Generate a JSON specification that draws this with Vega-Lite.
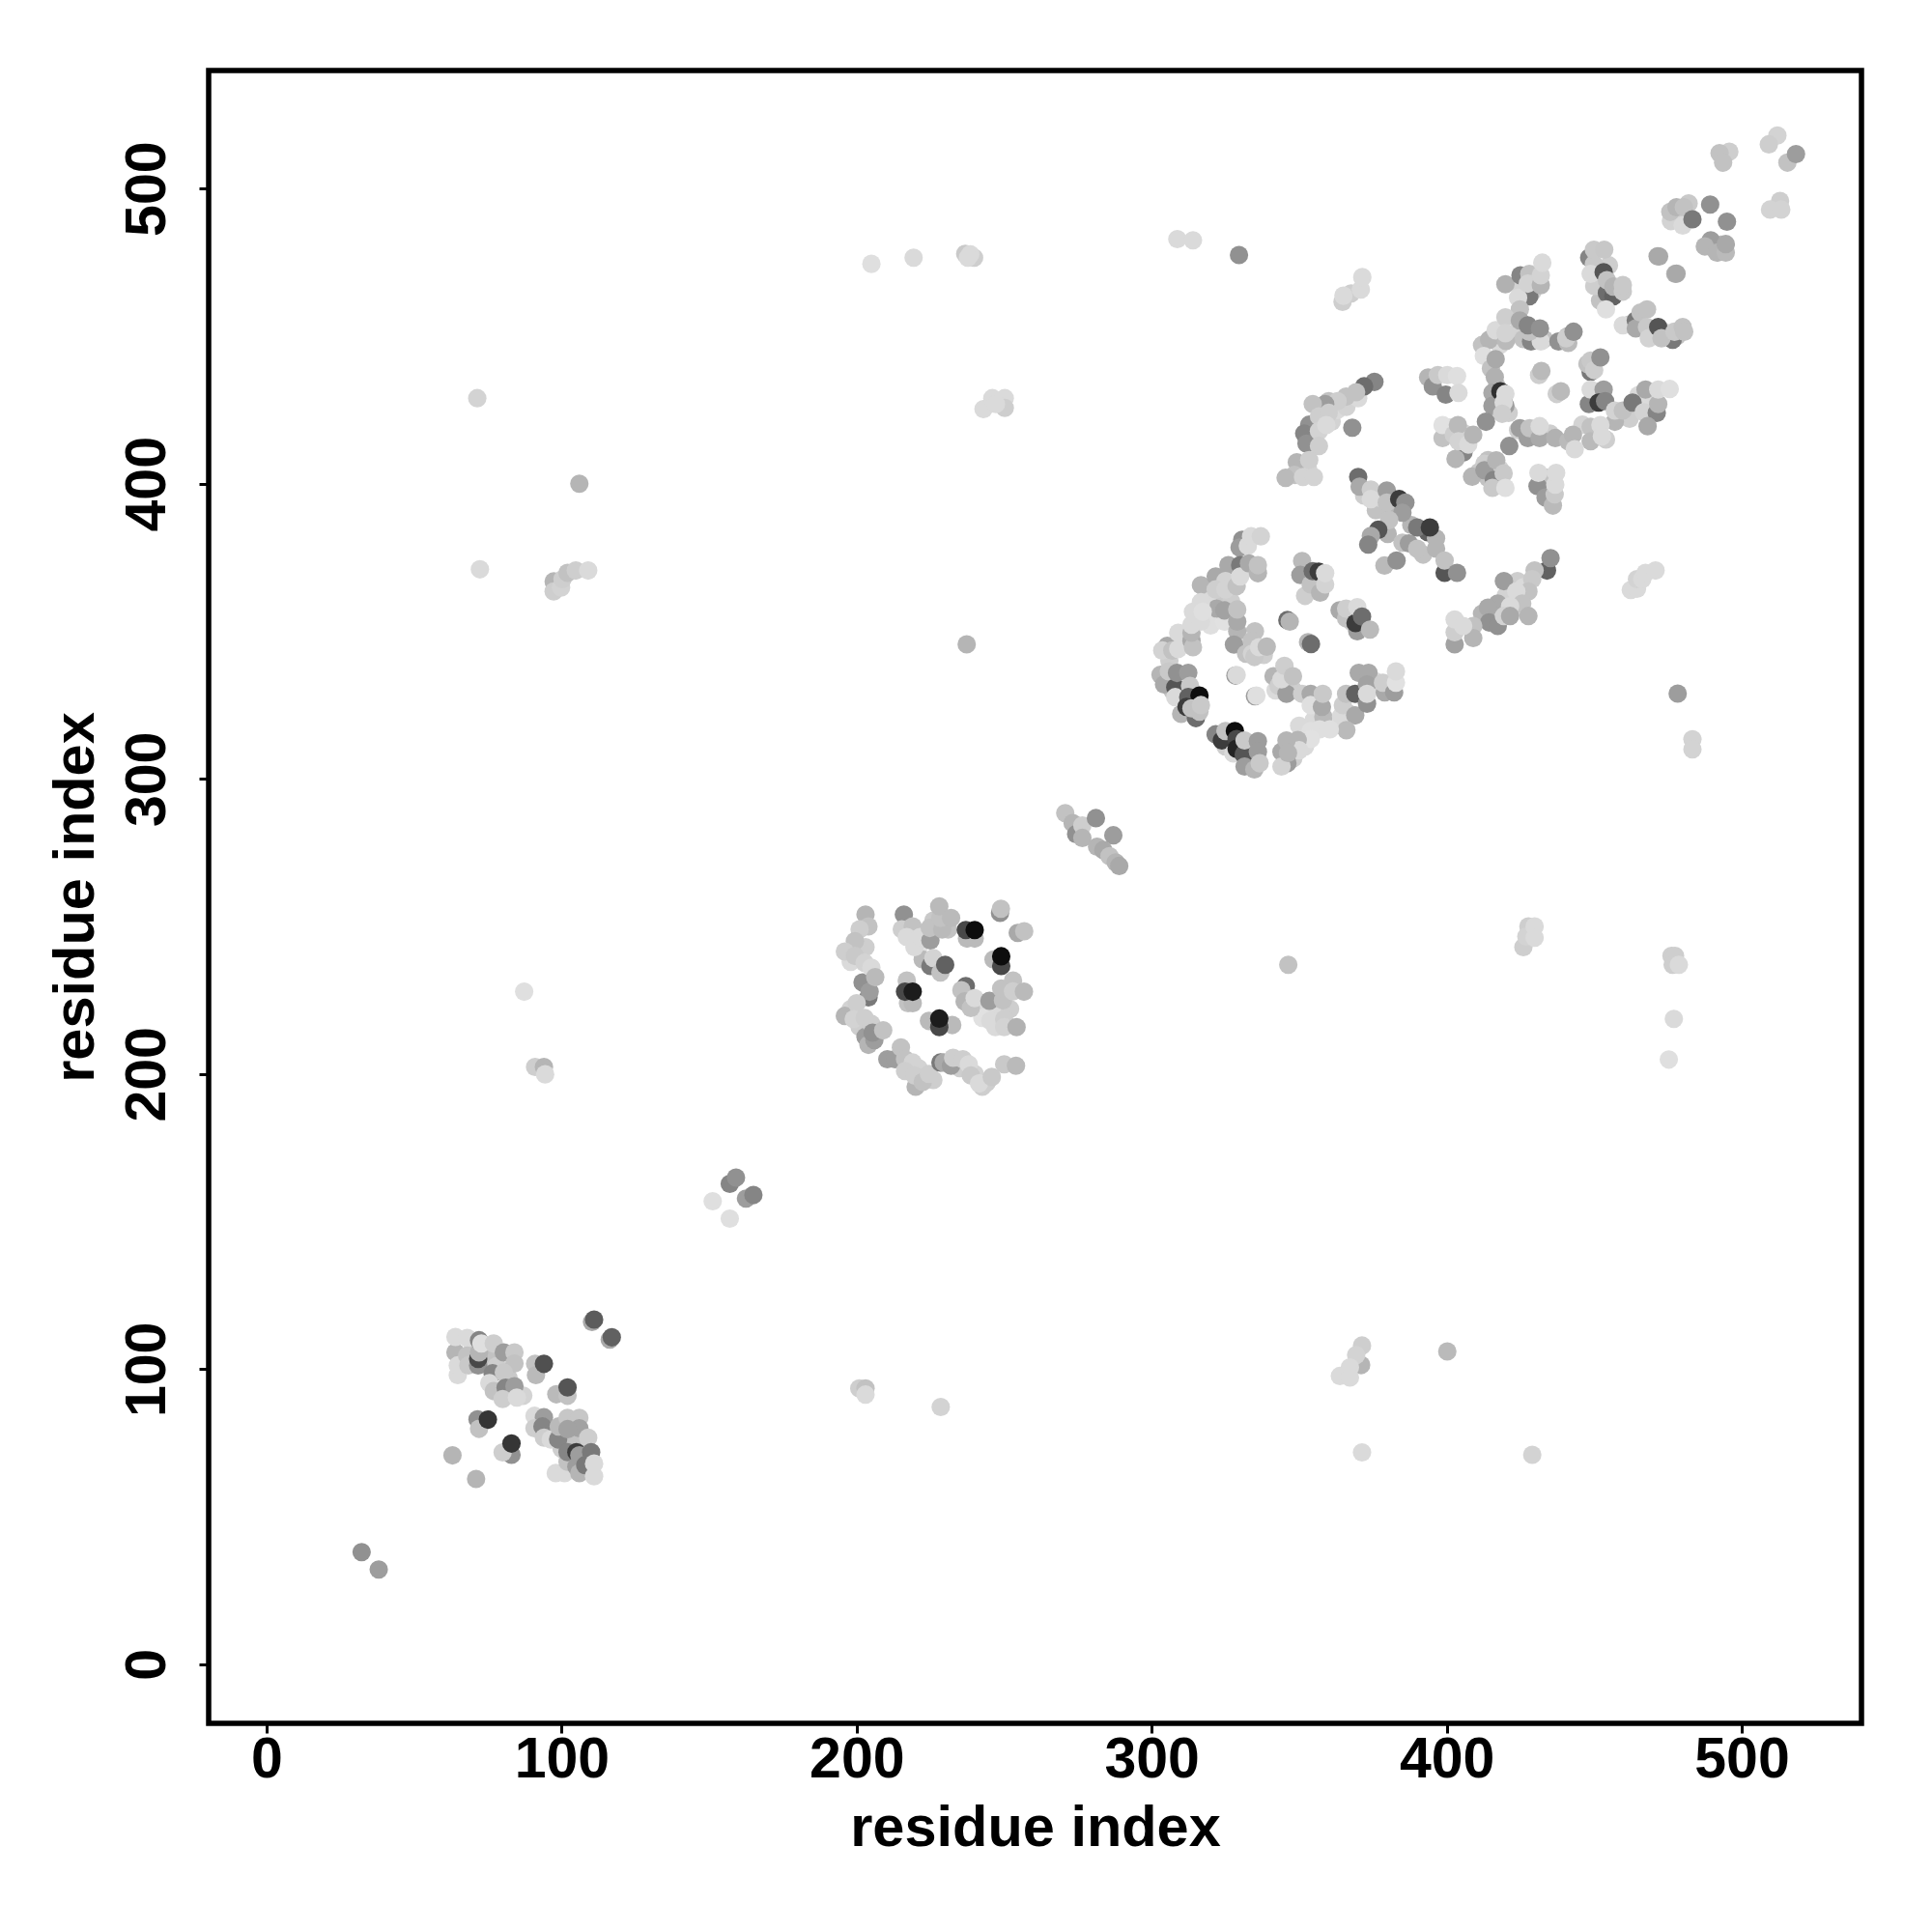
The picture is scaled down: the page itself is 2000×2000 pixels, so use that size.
{"$schema":"https://vega.github.io/schema/vega-lite/v6.json","width":1711,"height":1711,"autosize":{"type":"none"},"padding":{"left":216,"top":73,"right":73,"bottom":216},"background":"white",
"view":{"stroke":"black","strokeWidth":5.5,"fill":null},
"config":{"font":"Liberation Sans","view":{"stroke":"black","strokeWidth":5.5},"style":{"cell":{"stroke":"black","strokeWidth":5.5}}},
"data":{"name":"d","values":[
{"i":70,"j":107,"v":0.8},{"i":75,"j":104,"v":0.75},{"i":78,"j":101,"v":0.8},{"i":82,"j":97,"v":0.78},{"i":87,"j":91,"v":0.82},{"i":96,"j":80,"v":0.8},{"i":100,"j":73,"v":0.8},{"i":104,"j":75,"v":0.75},{"i":108,"j":72,"v":0.75},{"i":103,"j":66,"v":0.8},{"i":109,"j":66,"v":0.85},{"i":66,"j":103,"v":0.85},
{"i":198,"j":222,"v":0.82},{"i":201,"j":216,"v":0.8},{"i":203,"j":243,"v":0.8},{"i":198,"j":238,"v":0.85},{"i":221,"j":202,"v":0.82},{"i":226,"j":198,"v":0.8},{"i":235,"j":202,"v":0.8},{"i":240,"j":200,"v":0.82},{"i":244,"j":197,"v":0.8},{"i":243,"j":222,"v":0.85},{"i":247,"j":221,"v":0.85},{"i":221,"j":243,"v":0.88},{"i":219,"j":247,"v":0.85},{"i":226,"j":252,"v":0.78},{"i":231,"j":249,"v":0.75},{"i":252,"j":222,"v":0.8},
{"i":322,"j":360,"v":0.78},{"i":327,"j":360,"v":0.8},{"i":319,"j":362,"v":0.85},{"i":320,"j":352,"v":0.87},{"i":310,"j":347,"v":0.8},{"i":335,"j":350,"v":0.75},{"i":338,"j":342,"v":0.8},{"i":331,"j":347,"v":0.85},{"i":342,"j":330,"v":0.85},{"i":348,"j":330,"v":0.8},{"i":355,"j":320,"v":0.85},{"i":362,"j":318,"v":0.87},{"i":350,"j":318,"v":0.85},{"i":307,"j":330,"v":0.75},{"i":310,"j":322,"v":0.7},{"i":325,"j":311,"v":0.8},{"i":333,"j":307,"v":0.75},{"i":348,"j":307,"v":0.8},{"i":352,"j":311,"v":0.85},{"i":367,"j":322,"v":0.75},{"i":376,"j":333,"v":0.85},{"i":306,"j":340,"v":0.8},{"i":356,"j":367,"v":0.8},{"i":352,"j":362,"v":0.8},{"i":368,"j":353,"v":0.8},
{"i":372,"j":396,"v":0.8},{"i":376,"j":391,"v":0.75},{"i":380,"j":383,"v":0.7},{"i":385,"j":380,"v":0.75},{"i":388,"j":386,"v":0.7},{"i":392,"j":376,"v":0.75},{"i":382,"j":391,"v":0.7},{"i":378,"j":395,"v":0.82},
{"i":358,"j":421,"v":0.85},{"i":361,"j":421,"v":0.82},{"i":363,"j":425,"v":0.85},{"i":366,"j":426,"v":0.82},{"i":355,"j":415,"v":0.8},{"i":370,"j":429,"v":0.85},{"i":360,"j":428,"v":0.75},{"i":353,"j":405,"v":0.82},{"i":349,"j":403,"v":0.8},
{"i":401,"j":419,"v":0.8},{"i":406,"j":417,"v":0.82},{"i":411,"j":404,"v":0.78},{"i":414,"j":402,"v":0.75},{"i":418,"j":405,"v":0.82},{"i":414,"j":408,"v":0.75},{"i":417,"j":403,"v":0.8},{"i":434,"j":400,"v":0.85},{"i":434,"j":402,"v":0.75},{"i":418,"j":428,"v":0.8},{"i":417,"j":433,"v":0.75},{"i":421,"j":424,"v":0.8},
{"i":420,"j":362,"v":0.82},{"i":424,"j":367,"v":0.8},{"i":426,"j":365,"v":0.85},{"i":412,"j":356,"v":0.7},{"i":416,"j":355,"v":0.8},{"i":423,"j":358,"v":0.82},
{"i":425,"j":467,"v":0.82},{"i":429,"j":465,"v":0.8},{"i":423,"j":451,"v":0.82},{"i":418,"j":447,"v":0.85},{"i":412,"j":447,"v":0.75},{"i":426,"j":449,"v":0.75},{"i":429,"j":469,"v":0.85},{"i":452,"j":462,"v":0.75},{"i":450,"j":467,"v":0.8},{"i":455,"j":474,"v":0.8},{"i":462,"j":454,"v":0.8},{"i":472,"j":451,"v":0.8},{"i":475,"j":451,"v":0.82},{"i":478,"j":450,"v":0.75},{"i":446,"j":420,"v":0.82},{"i":454,"j":415,"v":0.8},{"i":462,"j":422,"v":0.8},{"i":465,"j":430,"v":0.85},{"i":469,"j":429,"v":0.85},{"i":435,"j":417,"v":0.8},{"i":433,"j":449,"v":0.75},{"i":441,"j":450,"v":0.75},
{"i":478,"j":490,"v":0.8},{"i":482,"j":495,"v":0.78},{"i":476,"j":489,"v":0.82},{"i":490,"j":480,"v":0.8},{"i":493,"j":481,"v":0.72},
{"i":110.3,"j":116,"v":0.65},{"i":111,"j":116.8,"v":0.33},{"i":116.3,"j":110,"v":0.65},{"i":117,"j":110.8,"v":0.35},
{"i":91,"j":101.8,"v":0.75},{"i":91.3,"j":98,"v":0.72},{"i":94,"j":101.8,"v":0.28},{"i":98.2,"j":91.5,"v":0.72},{"i":102,"j":91,"v":0.75},{"i":102,"j":93.8,"v":0.3},
{"i":71.5,"j":83,"v":0.55},{"i":72,"j":79.8,"v":0.75},{"i":75,"j":82.9,"v":0.17},{"i":83,"j":71,"v":0.55},{"i":80,"j":71.8,"v":0.8},{"i":83,"j":74.8,"v":0.17},
{"i":63,"j":70.8,"v":0.7},{"i":71,"j":62.8,"v":0.7},
{"i":64,"j":105.7,"v":0.7},{"i":64.8,"j":98,"v":0.85},{"i":64.8,"j":101.3,"v":0.85},{"i":64,"j":110.9,"v":0.85},{"i":68,"j":110.6,"v":0.85},{"i":68,"j":104.6,"v":0.75},{"i":68.4,"j":101.3,"v":0.78},{"i":71.7,"j":101.3,"v":0.55},{"i":71.7,"j":103.5,"v":0.25},{"i":72,"j":105.7,"v":0.7},{"i":72,"j":109.8,"v":0.5},{"i":72.8,"j":108.7,"v":0.87},{"i":77,"j":108.7,"v":0.8},{"i":76.6,"j":98.6,"v":0.5},{"i":75.5,"j":95.3,"v":0.85},{"i":80.4,"j":105.7,"v":0.6},{"i":84,"j":105.7,"v":0.78},{"i":84,"j":101.9,"v":0.75},{"i":80.4,"j":98.9,"v":0.78},{"i":77,"j":92.6,"v":0.75},{"i":81,"j":93.7,"v":0.5},{"i":84,"j":94.2,"v":0.6},{"i":80,"j":89.9,"v":0.8},{"i":84.8,"j":90.4,"v":0.85},
{"i":90.8,"j":84.2,"v":0.85},{"i":94,"j":83.7,"v":0.6},{"i":90.8,"j":80,"v":0.8},{"i":93.5,"j":80.6,"v":0.5},{"i":94,"j":76.8,"v":0.8},{"i":96.3,"j":76.2,"v":0.85},{"i":98.8,"j":76.2,"v":0.5},{"i":99,"j":80.6,"v":0.72},{"i":102,"j":83.5,"v":0.77},{"i":106,"j":83.5,"v":0.77},{"i":106,"j":80,"v":0.62},{"i":102,"j":79.7,"v":0.62},{"i":109,"j":76.8,"v":0.8},
{"i":98,"j":64.8,"v":0.85},{"i":101,"j":64.8,"v":0.85},{"i":102,"j":68.6,"v":0.75},{"i":102,"j":71.9,"v":0.5},{"i":105,"j":71.9,"v":0.2},{"i":105,"j":67,"v":0.6},{"i":106,"j":70.8,"v":0.6},{"i":106,"j":64.8,"v":0.7},{"i":108,"j":67.5,"v":0.45},{"i":110,"j":71.9,"v":0.45},{"i":111,"j":63.7,"v":0.85},{"i":111,"j":68,"v":0.85},
{"i":32.2,"j":38,"v":0.55},{"i":38,"j":32.1,"v":0.6},
{"i":151.2,"j":156.9,"v":0.87},{"i":157,"j":151,"v":0.87},{"i":157,"j":162.8,"v":0.5},{"i":159.1,"j":164.9,"v":0.55},{"i":162.5,"j":157.8,"v":0.6},{"i":165,"j":159,"v":0.5},
{"i":203,"j":254,"v":0.7},{"i":204,"j":250,"v":0.75},{"i":201,"j":249,"v":0.8},{"i":199.4,"j":245,"v":0.75},{"i":196,"j":241.5,"v":0.8},{"i":199.4,"j":240,"v":0.78},{"i":202,"j":231,"v":0.55},{"i":204,"j":226,"v":0.45},{"i":204.4,"j":227.9,"v":0.6},{"i":202.7,"j":237.7,"v":0.82},{"i":205,"j":236,"v":0.85},{"i":206.3,"j":232.8,"v":0.72},{"i":196,"j":219.7,"v":0.7},{"i":200,"j":224,"v":0.8},{"i":199,"j":218.6,"v":0.82},{"i":202.7,"j":219,"v":0.8},{"i":203,"j":212.6,"v":0.6},{"i":204,"j":209.9,"v":0.7},{"i":206,"j":211.5,"v":0.6},{"i":205,"j":217,"v":0.8},{"i":205.4,"j":214,"v":0.55},{"i":209,"j":214.8,"v":0.75},
{"i":210.4,"j":205,"v":0.6},{"i":213,"j":205,"v":0.6},{"i":215,"j":209,"v":0.75},{"i":216.4,"j":205,"v":0.75},{"i":219,"j":203.9,"v":0.82},{"i":216.4,"j":201,"v":0.8},{"i":220,"j":195.7,"v":0.7},{"i":219.6,"j":199.5,"v":0.8},{"i":222.4,"j":197.3,"v":0.75},{"i":224.5,"j":200,"v":0.8},{"i":228.4,"j":203.9,"v":0.45},{"i":229.5,"j":203.9,"v":0.65},{"i":232,"j":202.8,"v":0.6},{"i":232.7,"j":205.5,"v":0.8},{"i":236,"j":205,"v":0.8},{"i":238,"j":203.3,"v":0.85},{"i":238.7,"j":199.5,"v":0.78},{"i":242.6,"j":195.7,"v":0.8},{"i":241.5,"j":196.8,"v":0.85},{"i":245.8,"j":199,"v":0.78},{"i":250,"j":203.3,"v":0.78},{"i":254,"j":202.8,"v":0.72},
{"i":242.6,"j":219,"v":0.88},{"i":245.3,"j":218,"v":0.85},{"i":247,"j":215.9,"v":0.85},{"i":250,"j":218.6,"v":0.8},{"i":250,"j":215.9,"v":0.82},{"i":254.2,"j":215.9,"v":0.68},
{"i":237,"j":229.8,"v":0.4},{"i":235.5,"j":228.4,"v":0.75},{"i":236.6,"j":224.6,"v":0.7},{"i":238.7,"j":222.4,"v":0.75},{"i":240,"j":225.7,"v":0.85},{"i":245,"j":224.8,"v":0.6},{"i":249.6,"j":225,"v":0.75},{"i":249,"j":229,"v":0.75},{"i":253,"j":231.7,"v":0.75},{"i":253,"j":228,"v":0.8},{"i":256.7,"j":227.9,"v":0.72},
{"i":237.4,"j":245.9,"v":0.72},{"i":240,"j":245.9,"v":0.72},{"i":237,"j":248.8,"v":0.25},{"i":240,"j":248.8,"v":0.02},
{"i":246.4,"j":238.8,"v":0.72},{"i":249,"j":236.6,"v":0.25},{"i":249,"j":239.9,"v":0.02},
{"i":217,"j":231.7,"v":0.75},{"i":217.4,"j":224,"v":0.75},{"i":219,"j":224,"v":0.72},{"i":216.4,"j":227.9,"v":0.25},{"i":219,"j":227.9,"v":0.07},
{"i":224.5,"j":218,"v":0.72},{"i":232.4,"j":216.6,"v":0.72},{"i":228,"j":215.9,"v":0.25},{"i":228,"j":218.8,"v":0.07},
{"i":222.4,"j":238.8,"v":0.72},{"i":225,"j":236.6,"v":0.45},{"i":226,"j":239.3,"v":0.82},{"i":228.4,"j":234.4,"v":0.75},{"i":230,"j":237,"v":0.35},
{"i":216,"j":254,"v":0.55},{"i":215.3,"j":249,"v":0.8},{"i":219,"j":250,"v":0.75},{"i":217,"j":246.4,"v":0.85},{"i":219.6,"j":243,"v":0.85},{"i":221.5,"j":246.4,"v":0.85},
{"i":225,"j":245.3,"v":0.6},{"i":224.8,"j":249.5,"v":0.75},{"i":229,"j":249,"v":0.72},{"i":228.4,"j":252.9,"v":0.75},{"i":228,"j":256.8,"v":0.72},{"i":232,"j":252.9,"v":0.72},
{"i":248.6,"j":254.6,"v":0.55},{"i":248.9,"j":256,"v":0.75},{"i":254.6,"j":247.8,"v":0.65},{"i":256.8,"j":248.4,"v":0.75},
{"i":270.7,"j":288.4,"v":0.75},{"i":273.2,"j":285,"v":0.7},{"i":274.4,"j":281.3,"v":0.55},{"i":276.5,"j":284.2,"v":0.8},{"i":276.5,"j":280,"v":0.7},{"i":281.1,"j":286.7,"v":0.55},{"i":287,"j":280.9,"v":0.6},{"i":281.5,"j":277,"v":0.7},{"i":283.6,"j":275.9,"v":0.65},{"i":285.7,"j":273.8,"v":0.75},{"i":287.8,"j":271.7,"v":0.7},{"i":289,"j":270.5,"v":0.65},
{"i":330.7,"j":381,"v":0.55},{"i":329.8,"j":378.4,"v":0.6},{"i":332.6,"j":379,"v":0.85},{"i":333.7,"j":382.2,"v":0.85},{"i":337,"j":382.2,"v":0.82},
{"i":316.7,"j":365.6,"v":0.7},{"i":321.7,"j":368.6,"v":0.65},{"i":326,"j":372.4,"v":0.65},{"i":330,"j":372.4,"v":0.45},{"i":325,"j":367,"v":0.82},{"i":321.7,"j":364.2,"v":0.8},{"i":325,"j":364.2,"v":0.82},{"i":328.8,"j":365.3,"v":0.75},{"i":330,"j":368.6,"v":0.85},{"i":333,"j":373,"v":0.65},{"i":336,"j":369.7,"v":0.7},{"i":336,"j":372.4,"v":0.75},
{"i":324.6,"j":353.3,"v":0.88},{"i":322,"j":357.7,"v":0.65},{"i":324.6,"j":357.1,"v":0.62},{"i":329,"j":350,"v":0.7},{"i":329,"j":353.3,"v":0.65},{"i":329,"j":357.4,"v":0.75},
{"i":305.3,"j":345.1,"v":0.65},{"i":303.6,"j":343.5,"v":0.82},{"i":307,"j":343.5,"v":0.75},{"i":309,"j":349.5,"v":0.85},{"i":309,"j":344,"v":0.85},{"i":313.5,"j":346.8,"v":0.65},{"i":314,"j":344.6,"v":0.75},{"i":313.5,"j":349.5,"v":0.7},{"i":313.5,"j":352.2,"v":0.85},{"i":314,"j":356.6,"v":0.85},{"i":316.7,"j":353.3,"v":0.85},{"i":316.7,"j":359.9,"v":0.85},{"i":317.3,"j":356.6,"v":0.87},
{"i":327.9,"j":345.5,"v":0.6},{"i":332,"j":342.4,"v":0.75},{"i":334,"j":346.8,"v":0.75},{"i":334,"j":342.4,"v":0.82},{"i":334.8,"j":341.3,"v":0.78},{"i":336.4,"j":344.6,"v":0.85},{"i":339,"j":344.8,"v":0.72},
{"i":328.4,"j":335,"v":0.6},{"i":328.8,"j":335.2,"v":0.85},{"i":335,"j":328,"v":0.6},{"i":335.5,"j":328.2,"v":0.87},
{"i":346,"j":353.8,"v":0.4},{"i":346.8,"j":353.3,"v":0.7},{"i":353,"j":346.3,"v":0.7},{"i":354,"j":345.7,"v":0.4},
{"i":351,"j":373.8,"v":0.72},{"i":350.4,"j":369.1,"v":0.6},{"i":353.9,"j":365.9,"v":0.75},{"i":354.6,"j":370.4,"v":0.4},{"i":356.6,"j":370.2,"v":0.2},{"i":357.1,"j":363.1,"v":0.7},{"i":358.8,"j":365.9,"v":0.82},{"i":358.8,"j":369.7,"v":0.85},
{"i":363.7,"j":357.1,"v":0.65},{"i":365.9,"j":354.4,"v":0.75},{"i":365.9,"j":357.7,"v":0.8},{"i":369.7,"j":350,"v":0.6},{"i":369.1,"j":352.8,"v":0.2},{"i":369.7,"j":358.2,"v":0.85},{"i":371.3,"j":355,"v":0.4},{"i":374,"j":350.6,"v":0.72},
{"i":341.3,"j":334.8,"v":0.7},{"i":343,"j":331.5,"v":0.8},{"i":345.7,"j":328.8,"v":0.6},{"i":344,"j":333.7,"v":0.85},{"i":345,"j":338.3,"v":0.8},{"i":347.9,"j":334.8,"v":0.75},
{"i":351,"j":328.8,"v":0.8},{"i":353.9,"j":328.8,"v":0.65},{"i":353.9,"j":325,"v":0.87},{"i":358.2,"j":321,"v":0.72},{"i":357.7,"j":324.4,"v":0.65},{"i":358,"j":328.8,"v":0.78},
{"i":364.2,"j":321.2,"v":0.85},{"i":364.8,"j":325,"v":0.8},{"i":365.9,"j":328.8,"v":0.75},{"i":369,"j":321.5,"v":0.65},{"i":369,"j":328.8,"v":0.35},{"i":370.2,"j":335.9,"v":0.65},{"i":373.5,"j":335.9,"v":0.65},{"i":373,"j":332,"v":0.62},{"i":373,"j":325.5,"v":0.55},{"i":373,"j":328.8,"v":0.85},{"i":379,"j":329.3,"v":0.65},{"i":378.4,"j":332.6,"v":0.8},{"i":382.2,"j":329.3,"v":0.6},{"i":382.8,"j":332.6,"v":0.88},{"i":382.8,"j":336.4,"v":0.85},
{"i":366,"j":316.5,"v":0.72},{"i":360.4,"j":316.8,"v":0.87},{"i":356.9,"j":316.8,"v":0.87},{"i":353.9,"j":316.2,"v":0.87},{"i":353.9,"j":313.5,"v":0.88},{"i":349.5,"j":313.2,"v":0.7},{"i":350,"j":309.7,"v":0.85},{"i":344,"j":309.2,"v":0.65},{"i":345.7,"j":313,"v":0.7},{"i":346,"j":305.3,"v":0.6},{"i":344,"j":304.2,"v":0.82},{"i":346.2,"j":308.8,"v":0.7},
{"i":303,"j":335.3,"v":0.7},{"i":304.2,"j":332,"v":0.65},{"i":305.8,"j":336.4,"v":0.78},{"i":308,"j":331,"v":0.3},{"i":308.6,"j":335.9,"v":0.55},{"i":312.4,"j":335.9,"v":0.6},{"i":313,"j":331.5,"v":0.78},{"i":308,"j":327.7,"v":0.85},{"i":312.4,"j":327.7,"v":0.35},{"i":316.2,"j":328.2,"v":0.02},{"i":311.8,"j":324.4,"v":0.2},{"i":315,"j":320.6,"v":0.4},{"i":313.5,"j":323.9,"v":0.75},{"i":316.2,"j":322.8,"v":0.75},{"i":316.7,"j":325,"v":0.78},
{"i":321.7,"j":315.1,"v":0.5},{"i":323.8,"j":313,"v":0.2},{"i":325,"j":316.2,"v":0.75},{"i":328.2,"j":316.2,"v":0.02},{"i":328.8,"j":313.5,"v":0.25},{"i":327.7,"j":308.6,"v":0.85},{"i":328.8,"j":310.2,"v":0.1},{"i":331.2,"j":308.3,"v":0.3},{"i":331.5,"j":313,"v":0.78},{"i":336,"j":312.8,"v":0.6},{"i":336,"j":309.2,"v":0.6},{"i":331.5,"j":304.2,"v":0.6},{"i":334.8,"j":303.2,"v":0.7},{"i":336.6,"j":305.3,"v":0.78},
{"i":370,"j":402.3,"v":0.4},{"i":370.5,"j":399,"v":0.65},{"i":374.3,"j":398,"v":0.8},{"i":374.3,"j":394.8,"v":0.85},{"i":379.7,"j":397.7,"v":0.6},{"i":379.7,"j":393.6,"v":0.75},{"i":383.9,"j":394.8,"v":0.2},{"i":386,"j":393.6,"v":0.55},{"i":385,"j":390.2,"v":0.6},{"i":380.5,"j":387.7,"v":0.75},{"i":376.8,"j":384.4,"v":0.3},{"i":374.3,"j":382.3,"v":0.65},{"i":373.4,"j":379.4,"v":0.5},{"i":378.9,"j":372.3,"v":0.72},{"i":383,"j":374,"v":0.55},{"i":387.2,"j":379.8,"v":0.6},{"i":390,"j":378,"v":0.75},{"i":393.5,"j":383.6,"v":0.35},{"i":396.4,"j":381.5,"v":0.7},{"i":396.4,"j":378,"v":0.7},{"i":399.3,"j":369.8,"v":0.3},{"i":399.3,"j":374,"v":0.75},{"i":403.5,"j":369.8,"v":0.55},{"i":390,"j":385.2,"v":0.45},{"i":394.3,"j":385.2,"v":0.2},
{"i":375.5,"j":434.5,"v":0.5},{"i":372,"j":433,"v":0.4},{"i":369.3,"j":431,"v":0.75},{"i":365.9,"j":429.5,"v":0.75},{"i":363,"j":428,"v":0.8},{"i":358.8,"j":427,"v":0.6},{"i":354.6,"j":427,"v":0.75},{"i":368,"j":419,"v":0.55},{"i":353.4,"j":420,"v":0.55},{"i":351.7,"j":417,"v":0.5},{"i":352.5,"j":413.6,"v":0.55},{"i":356.7,"j":422.8,"v":0.8},{"i":360,"j":424,"v":0.8},{"i":356.7,"j":417.8,"v":0.82},{"i":359.2,"j":419.9,"v":0.85},{"i":356.7,"j":412.8,"v":0.8},{"i":349.2,"j":407.3,"v":0.7},{"i":353.4,"j":408,"v":0.8},{"i":348.4,"j":403,"v":0.75},{"i":345.4,"j":402,"v":0.72},{"i":351.3,"j":402.3,"v":0.82},{"i":355,"j":402.3,"v":0.82},
{"i":434,"j":370.6,"v":0.35},{"i":435.2,"j":374.8,"v":0.55},{"i":429.8,"j":370.6,"v":0.75},{"i":429,"j":367.7,"v":0.78},{"i":419.4,"j":367,"v":0.6},{"i":427.7,"j":363.5,"v":0.75},{"i":423.6,"j":363.5,"v":0.85},{"i":425.6,"j":359.4,"v":0.75},{"i":417.3,"j":359.4,"v":0.65},{"i":414,"j":358,"v":0.65},{"i":414.4,"j":353,"v":0.55},{"i":417.3,"j":351.8,"v":0.55},{"i":421.5,"j":358.5,"v":0.85},{"i":419.4,"j":355.2,"v":0.82},{"i":421.5,"j":355.2,"v":0.65},{"i":427.7,"j":355.2,"v":0.7},{"i":409,"j":351.8,"v":0.75},{"i":409,"j":347.7,"v":0.7},{"i":402.7,"j":345.6,"v":0.62},{"i":402.7,"j":349.7,"v":0.8},{"i":402.7,"j":354,"v":0.85},{"i":405.6,"j":351.8,"v":0.85},
{"i":471.5,"j":477.1,"v":0.65},{"i":477.5,"j":471.1,"v":0.68},
{"i":448.3,"j":476.6,"v":0.5},{"i":449.9,"j":474.4,"v":0.78},{"i":448.8,"j":471.1,"v":0.85},{"i":449.9,"j":479.3,"v":0.78},{"i":453.4,"j":479.3,"v":0.77},{"i":453.2,"j":471.7,"v":0.3},{"i":454.3,"j":464.6,"v":0.4},{"i":456.5,"j":463.5,"v":0.35},{"i":454,"j":459.1,"v":0.87},{"i":454.3,"j":469,"v":0.75},{"i":456.5,"j":466.8,"v":0.7},{"i":459.7,"j":465.1,"v":0.78},{"i":459.7,"j":467.3,"v":0.78},
{"i":459.7,"j":453.7,"v":0.85},{"i":464.1,"j":455.3,"v":0.45},{"i":464.1,"j":452.6,"v":0.65},{"i":465.7,"j":458,"v":0.75},{"i":467.9,"j":459.1,"v":0.75},{"i":467.9,"j":453.1,"v":0.78},{"i":468.5,"j":449.3,"v":0.82},{"i":471.7,"j":453.1,"v":0.3},{"i":476.6,"j":448.8,"v":0.45},{"i":472.8,"j":449.3,"v":0.75},{"i":477.2,"j":451.5,"v":0.78},{"i":480,"j":453.1,"v":0.75},{"i":480.5,"j":451.5,"v":0.75},
{"i":419.9,"j":467.6,"v":0.68},{"i":425,"j":470.6,"v":0.5},{"i":428,"j":463.5,"v":0.45},{"i":424.2,"j":463,"v":0.85},{"i":424.8,"j":459.1,"v":0.75},{"i":428,"j":471.1,"v":0.75},{"i":427.5,"j":467.8,"v":0.82},{"i":431.9,"j":467.3,"v":0.7},{"i":431.9,"j":470.6,"v":0.82},{"i":432.4,"j":474.9,"v":0.85},
{"i":414.4,"j":448.8,"v":0.7},{"i":416.6,"j":452,"v":0.85},{"i":419.9,"j":456.4,"v":0.8},{"i":420.1,"j":448.4,"v":0.72},{"i":419.9,"j":451,"v":0.82},{"i":424.8,"j":455.3,"v":0.65},{"i":428.6,"j":448.2,"v":0.5},{"i":431.9,"j":448.2,"v":0.85},{"i":428,"j":451.5,"v":0.75},{"i":427.5,"j":453.7,"v":0.5},{"i":431.6,"j":452.6,"v":0.55},
{"i":437.9,"j":448.2,"v":0.55},{"i":441.2,"j":447.7,"v":0.72},{"i":440.5,"j":449.3,"v":0.8},{"i":443,"j":451.5,"v":0.55},
{"i":448.8,"j":437.9,"v":0.45},{"i":447.7,"j":440.6,"v":0.75},{"i":448.8,"j":441.7,"v":0.78},{"i":450,"j":438.5,"v":0.8},{"i":452.1,"j":442.8,"v":0.55},
{"i":412.6,"j":443.3,"v":0.87},{"i":415,"j":439,"v":0.75},{"i":416.3,"j":436.2,"v":0.68},{"i":416.6,"j":442.2,"v":0.65},
{"i":431.3,"j":436.8,"v":0.8},{"i":432.1,"j":438.2,"v":0.72},{"i":437.3,"j":430.4,"v":0.8},{"i":438.7,"j":431.3,"v":0.72},
{"i":415.5,"j":430.8,"v":0.65},{"i":415.5,"j":426.4,"v":0.6},{"i":418.2,"j":431.3,"v":0.15},{"i":419.9,"j":430.4,"v":0.85},{"i":419.9,"j":426.4,"v":0.6},{"i":419.3,"j":427.5,"v":0.85},{"i":418.8,"j":423.7,"v":0.8},{"i":413.3,"j":421,"v":0.55},
{"i":393.7,"j":436,"v":0.7},{"i":395.3,"j":433,"v":0.55},{"i":397,"j":436.8,"v":0.78},{"i":399.7,"j":430.2,"v":0.5},{"i":400.2,"j":436.8,"v":0.85},{"i":403.5,"j":436.5,"v":0.87},{"i":404,"j":430.8,"v":0.85},
{"i":448.2,"j":427,"v":0.5},{"i":448.8,"j":431.9,"v":0.85},{"i":453.2,"j":431.9,"v":0.6},{"i":451.5,"j":427.5,"v":0.2},{"i":453.7,"j":428,"v":0.5},{"i":457,"j":421,"v":0.7},{"i":457,"j":424.8,"v":0.82},{"i":459.7,"j":424.8,"v":0.75},{"i":463,"j":427.5,"v":0.45},{"i":466.8,"j":424.2,"v":0.82},{"i":467.4,"j":431.9,"v":0.65},{"i":471.2,"j":424,"v":0.5},{"i":471.7,"j":427,"v":0.7},{"i":471.7,"j":431.9,"v":0.85},{"i":475.6,"j":432.1,"v":0.87},{"i":468.1,"j":419.5,"v":0.65},
{"i":424.2,"j":418.2,"v":0.8},{"i":424.8,"j":418.8,"v":0.6},{"i":427.5,"j":415.5,"v":0.6},{"i":428.1,"j":418.8,"v":0.75},{"i":431.5,"j":415.5,"v":0.65},{"i":431.5,"j":419.5,"v":0.85},{"i":436.8,"j":415.5,"v":0.68},{"i":441.2,"j":414.4,"v":0.72},{"i":442.8,"j":416.6,"v":0.7},{"i":448.8,"j":419.3,"v":0.75},{"i":448.8,"j":414.4,"v":0.72},{"i":452.1,"j":419.9,"v":0.85},{"i":452.6,"j":416,"v":0.85},{"i":443.4,"j":411.7,"v":0.85},{"i":421.2,"j":412.8,"v":0.55},
{"i":398.6,"j":415.5,"v":0.75},{"i":398.6,"j":419.9,"v":0.88},{"i":402.4,"j":416.6,"v":0.8},{"i":403.8,"j":419.9,"v":0.72},{"i":405.7,"j":410.6,"v":0.5},{"i":403,"j":408.4,"v":0.7},{"i":404,"j":414.4,"v":0.82},{"i":407.3,"j":413.3,"v":0.85},{"i":409,"j":416.6,"v":0.7},
{"i":408.6,"j":402.4,"v":0.7},{"i":412.8,"j":406.8,"v":0.8},{"i":412.8,"j":404.6,"v":0.6},{"i":416,"j":401.3,"v":0.5},{"i":416.8,"j":407.9,"v":0.7},{"i":419.3,"j":403.5,"v":0.78},{"i":415.5,"j":398.6,"v":0.78},{"i":419.9,"j":398.6,"v":0.87},
{"i":430.8,"j":399.2,"v":0.55},{"i":433.5,"j":395.3,"v":0.6},{"i":436,"j":392.6,"v":0.72},{"i":436.6,"j":396.4,"v":0.78},{"i":431.1,"j":403.7,"v":0.85},{"i":436.8,"j":399.7,"v":0.85},{"i":437.1,"j":403.7,"v":0.85},
{"i":512.1,"j":518,"v":0.82},{"i":509.2,"j":515,"v":0.8},{"i":515.5,"j":508.8,"v":0.75},{"i":518.4,"j":511.7,"v":0.6},{"i":495.8,"j":512.5,"v":0.8},{"i":492.5,"j":512,"v":0.75},{"i":493.7,"j":508.8,"v":0.75},{"i":513,"j":495.8,"v":0.8},{"i":509.6,"j":492.9,"v":0.82},{"i":513.4,"j":492.9,"v":0.82},
{"i":489.3,"j":494.6,"v":0.55},{"i":495,"j":488.8,"v":0.55},{"i":475.8,"j":492.1,"v":0.75},{"i":477.9,"j":493.7,"v":0.7},{"i":480.4,"j":493.7,"v":0.75},{"i":480,"j":487.5,"v":0.85},{"i":483.3,"j":489.6,"v":0.45},{"i":489.5,"j":482.5,"v":0.6},{"i":487.5,"j":480.4,"v":0.7},{"i":491.6,"j":478.3,"v":0.7},{"i":494.6,"j":478.3,"v":0.72},{"i":494.6,"j":481.2,"v":0.65},{"i":472,"j":477,"v":0.65},{"i":477.9,"j":471.2,"v":0.65},
{"i":71.4,"j":429,"v":0.82},{"i":72.3,"j":371,"v":0.85},{"i":106,"j":400,"v":0.7},{"i":97.3,"j":366.9,"v":0.7},{"i":97.3,"j":363.5,"v":0.8},{"i":99.8,"j":364.8,"v":0.82},{"i":100.3,"j":367.7,"v":0.8},{"i":102,"j":369.8,"v":0.75},{"i":104.8,"j":370.6,"v":0.8},{"i":109,"j":370.6,"v":0.85},
{"i":87.3,"j":227.9,"v":0.87},{"i":91,"j":202.4,"v":0.8},{"i":94,"j":202.4,"v":0.7},{"i":94.4,"j":199.9,"v":0.85},
{"i":205,"j":474.5,"v":0.87},{"i":219.3,"j":476.6,"v":0.85},{"i":236.8,"j":477.9,"v":0.78},{"i":239.8,"j":476.6,"v":0.8},{"i":238.5,"j":477.7,"v":0.85},{"i":237.7,"j":476.6,"v":0.85},
{"i":243,"j":425.3,"v":0.85},{"i":246,"j":429,"v":0.85},{"i":250.2,"j":429,"v":0.85},{"i":250.2,"j":425.7,"v":0.8},{"i":247.2,"j":427,"v":0.85},
{"i":237.3,"j":345.6,"v":0.7},{"i":308.7,"j":482.9,"v":0.85},{"i":314,"j":482.5,"v":0.85},{"i":329.6,"j":477.5,"v":0.55},
{"i":364.7,"j":461.6,"v":0.8},{"i":367.6,"j":464.5,"v":0.8},{"i":365,"j":463.7,"v":0.85},{"i":370.9,"j":465.8,"v":0.85},{"i":371.4,"j":470,"v":0.85},
{"i":478.3,"j":328.9,"v":0.6},{"i":483.3,"j":313.4,"v":0.82},{"i":483.3,"j":310,"v":0.82},
{"i":476.2,"j":240,"v":0.8},{"i":477.4,"j":240,"v":0.8},{"i":476.6,"j":237,"v":0.8},{"i":478.7,"j":237,"v":0.85},{"i":477,"j":218.7,"v":0.85},{"i":475.3,"j":204.9,"v":0.87},{"i":346.3,"j":237,"v":0.75},
{"i":426,"j":243,"v":0.8},{"i":427.7,"j":250,"v":0.8},{"i":427,"j":246.6,"v":0.82},{"i":429.8,"j":250,"v":0.85},{"i":429.8,"j":246.2,"v":0.85},
{"i":462.4,"j":364,"v":0.85},{"i":464.5,"j":364.4,"v":0.85},{"i":464.5,"j":367.7,"v":0.82},{"i":466.3,"j":367.7,"v":0.85},{"i":467.4,"j":369.8,"v":0.85},{"i":470.8,"j":370.6,"v":0.85},
{"i":200.9,"j":93.5,"v":0.8},{"i":203,"j":93.5,"v":0.75},{"i":203,"j":91.4,"v":0.85},{"i":228.5,"j":87.2,"v":0.82},
{"i":400.2,"j":106,"v":0.72},{"i":371.3,"j":108,"v":0.8},{"i":371,"j":101.4,"v":0.7},{"i":369.3,"j":104.8,"v":0.82},{"i":367.2,"j":100.6,"v":0.85},{"i":363.8,"j":97.7,"v":0.85},{"i":367.2,"j":97.2,"v":0.85},{"i":371.3,"j":71.8,"v":0.85},{"i":429,"j":71,"v":0.82}
]},
"mark":{"type":"point","filled":true,"shape":"circle","size":365,"opacity":1,"clip":true},
"encoding":{
"x":{"field":"i","type":"quantitative","scale":{"domain":[-19.65,540.6],"nice":false,"zero":false},
"axis":{"title":"residue index","values":[0,100,200,300,400,500],"grid":false,"domain":false,"ticks":true,"tickColor":"black","tickWidth":3,"tickSize":10,"labelFont":"Liberation Sans","labelFontWeight":"bold","labelFontSize":59,"labelColor":"black","labelPadding":-2,"labelFlush":false,"titleFont":"Liberation Sans","titleFontWeight":"bold","titleFontSize":59.5,"titleColor":"black","titlePadding":12}},
"y":{"field":"j","type":"quantitative","scale":{"domain":[-20,540],"nice":false,"zero":false},
"axis":{"title":"residue index","values":[0,100,200,300,400,500],"grid":false,"domain":false,"ticks":true,"tickColor":"black","tickWidth":3,"tickSize":10,"labelFont":"Liberation Sans","labelFontWeight":"bold","labelFontSize":59,"labelColor":"black","labelAngle":-90,"labelAlign":"center","labelBaseline":"alphabetic","labelPadding":36,"labelFlush":false,"titleFont":"Liberation Sans","titleFontWeight":"bold","titleFontSize":59.5,"titleColor":"black","titlePadding":15}},
"color":{"field":"v","type":"quantitative","scale":{"type":"pow","exponent":0.85,"domain":[0,1],"range":["#000000","#ffffff"]},"legend":null}
}}
